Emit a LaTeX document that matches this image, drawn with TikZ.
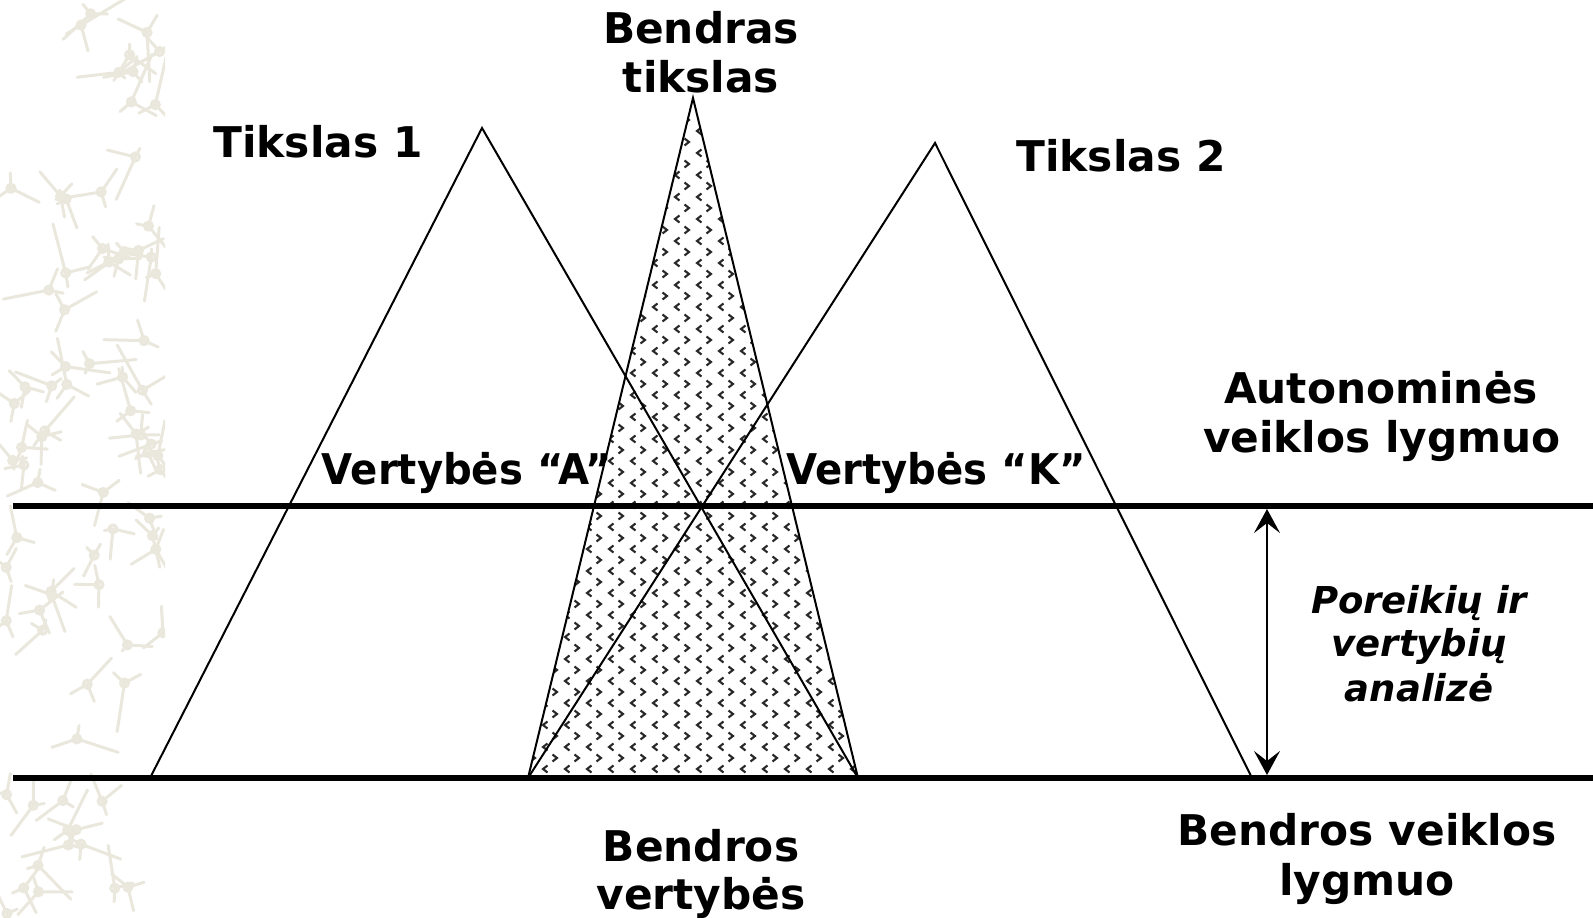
\documentclass[tikz,border=0pt]{standalone}
\usepackage{fontspec}
\usepackage{graphicx}
\setmainfont{DejaVu Sans}
\usetikzlibrary{arrows.meta,patterns}
\definecolor{bgink}{RGB}{234,231,221}
\definecolor{chevgray}{RGB}{40,40,40}

\pgfdeclarepatternformonly{chevrons}{\pgfpoint{-1pt}{-1pt}}{\pgfpoint{23pt}{23pt}}{\pgfpoint{22pt}{22pt}}{%
  \pgfsetlinewidth{2.1pt}%
  \pgfpathmoveto{\pgfpoint{2.5pt}{9.5pt}}\pgfpathlineto{\pgfpoint{7pt}{6pt}}\pgfpathlineto{\pgfpoint{2.5pt}{2.5pt}}%
  \pgfusepath{stroke}%
  \pgfpathmoveto{\pgfpoint{19.5pt}{20.5pt}}\pgfpathlineto{\pgfpoint{15pt}{17pt}}\pgfpathlineto{\pgfpoint{19.5pt}{13.5pt}}%
  \pgfusepath{stroke}%
}

\begin{document}
\begin{tikzpicture}[x=1pt,y=-1pt,
  lbl/.style={font=\fontsize{42.3}{50}\selectfont\bfseries, anchor=base, inner sep=0pt},
  ilbl/.style={font=\fontsize{37}{44}\selectfont\bfseries\itshape, anchor=base, inner sep=0pt},
  tri/.style={line width=2pt, line join=miter},
  level/.style={line width=6pt},
  bgstroke/.style={bgink, line width=3pt, line cap=round}
]
\useasboundingbox (0,0) rectangle (1593,918);

% decorative background strip
\begin{scope}
  \clip (0,0) rectangle (165,918);
  \pgfmathsetseed{5}
  \foreach \k in {1,...,80}{
    \pgfmathsetmacro{\cx}{4+160*rnd}
    \pgfmathsetmacro{\cy}{918*rnd}
    \pgfmathsetmacro{\aa}{360*rnd}
    \pgfmathsetmacro{\ab}{\aa+70+80*rnd}
    \pgfmathsetmacro{\ac}{\ab+70+80*rnd}
    \pgfmathsetmacro{\la}{18+34*rnd}
    \pgfmathsetmacro{\lb}{10+22*rnd}
    \pgfmathsetmacro{\lc}{8+14*rnd}
    \draw[bgstroke] (\cx,\cy) circle[radius=4pt]
      (\cx,\cy) -- ++(\aa:\la) (\cx,\cy) -- ++(\ab:\lb) (\cx,\cy) -- ++(\ac:\lc);
  }
\end{scope}

% key points
\coordinate (sctop) at (693,98);
\coordinate (scl) at (528,778);
\coordinate (scr) at (858,778);
\coordinate (t1top) at (482,128);
\coordinate (t1l) at (150,778);
\coordinate (t1r) at (858,778);
\coordinate (t2top) at (935,143);
\coordinate (t2l) at (528,778);
\coordinate (t2r) at (1252,778);
\coordinate (topW) at (13,506);
\coordinate (topE) at (1593,506);
\coordinate (botW) at (13,778);
\coordinate (botE) at (1593,778);
\coordinate (arT) at (1267,509);
\coordinate (arB) at (1267,775);

% shaded common triangle
\fill[pattern=chevrons, pattern color=chevgray] (sctop) -- (scl) -- (scr) -- cycle;
\draw[tri] (sctop) -- (scl) -- (scr) -- cycle;
% goal triangles
\draw[tri] (t1top) -- (t1l) -- (t1r) -- cycle;
\draw[tri] (t2top) -- (t2l) -- (t2r) -- cycle;
% levels
\draw[level] (topW) -- (topE);
\draw[level] (botW) -- (botE);
% arrow
\draw[line width=2pt, arrows={Stealth[length=24pt,width=26pt,inset=10pt]-Stealth[length=24pt,width=26pt,inset=10pt]}] (arT) -- (arB);

% labels
\node[lbl] (bt1) at (701,43) {Bendras};
\node[lbl] (bt2) at (701,92) {tikslas};
\node[lbl] (ts1) at (318,157) {Tikslas 1};
\node[lbl] (ts2) at (1121,171) {Tikslas 2};
\node[lbl] (au1) at (1381,403) {Autonominės};
\node[lbl] (au2) at (1382,452) {veiklos lygmuo};
\node[lbl] (va) at (467,484) {\scalebox{0.95}[1]{Vertybės “A”}};
\node[lbl] (vk) at (936,484) {\scalebox{0.95}[1]{Vertybės “K”}};
\node[ilbl] (pa1) at (1419,613) {Poreikių ir};
\node[ilbl] (pa2) at (1419,656) {vertybių};
\node[ilbl] (pa3) at (1419,701) {analizė};
\node[lbl] (bv1) at (701,861) {Bendros};
\node[lbl] (bv2) at (701,909) {vertybės};
\node[lbl] (bl1) at (1367,845) {Bendros veiklos};
\node[lbl] (bl2) at (1367,895) {lygmuo};
\end{tikzpicture}
\end{document}
